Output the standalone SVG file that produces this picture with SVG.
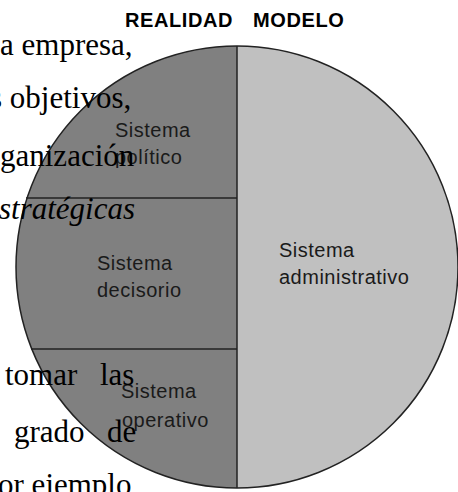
<svg xmlns="http://www.w3.org/2000/svg" width="458" height="492" viewBox="0 0 458 492">
<style>
.lbl{font-family:"Liberation Sans",Arial,sans-serif;font-size:20px;letter-spacing:0.5px;fill:#1a1a1a}
.hdr{font-family:"Liberation Sans",Arial,sans-serif;font-size:20px;font-weight:bold;letter-spacing:0.6px;fill:#000}
.doc{font-family:"Liberation Serif","Times New Roman",serif;font-size:31px;fill:#000}
.edge{stroke:#222;stroke-width:1.5;fill:none}
</style>
<rect width="458" height="492" fill="#fff"/>
<g id="header">
<text class="hdr" x="125" y="27">REALIDAD</text>
<text class="hdr" x="253" y="27">MODELO</text>
</g>
<g id="realidad">
<path d="M237,46 A221,221 0 0 0 237,488 Z" fill="#808080"/>
</g>
<g id="modelo">
<path d="M237,46 A221,221 0 0 1 237,488 Z" fill="#c0c0c0"/>
</g>
<g id="connectors">
<circle class="edge" cx="237" cy="267" r="221"/>
<line class="edge" x1="237" y1="46" x2="237" y2="488"/>
<line class="edge" x1="26" y1="198" x2="237" y2="198"/>
<line class="edge" x1="31" y1="349" x2="237" y2="349"/>
</g>
<g id="sistema-politico">
<text class="lbl" x="115" y="137">Sistema</text>
<text class="lbl" x="115" y="164">político</text>
</g>
<g id="sistema-decisorio">
<text class="lbl" x="97" y="270">Sistema</text>
<text class="lbl" x="97" y="297">decisorio</text>
</g>
<g id="sistema-operativo">
<text class="lbl" x="121" y="398">Sistema</text>
<text class="lbl" x="122" y="427">operativo</text>
</g>
<g id="sistema-administrativo">
<text class="lbl" x="279" y="257">Sistema</text>
<text class="lbl" x="279" y="284">administrativo</text>
</g>
<g id="document-text">
<text class="doc" x="0" y="55">a empresa,</text>
<text class="doc" x="-10" y="108">s objetivos,</text>
<text class="doc" x="0" y="166">ganización</text>
<text class="doc" x="-1" y="219" font-style="italic">stratégicas</text>
<text class="doc" x="5" y="385">tomar</text>
<text class="doc" x="100" y="385">las</text>
<text class="doc" x="14" y="442">grado</text>
<text class="doc" x="107" y="442">de</text>
<text class="doc" x="-2" y="495">or ejemplo</text>
</g>
</svg>
